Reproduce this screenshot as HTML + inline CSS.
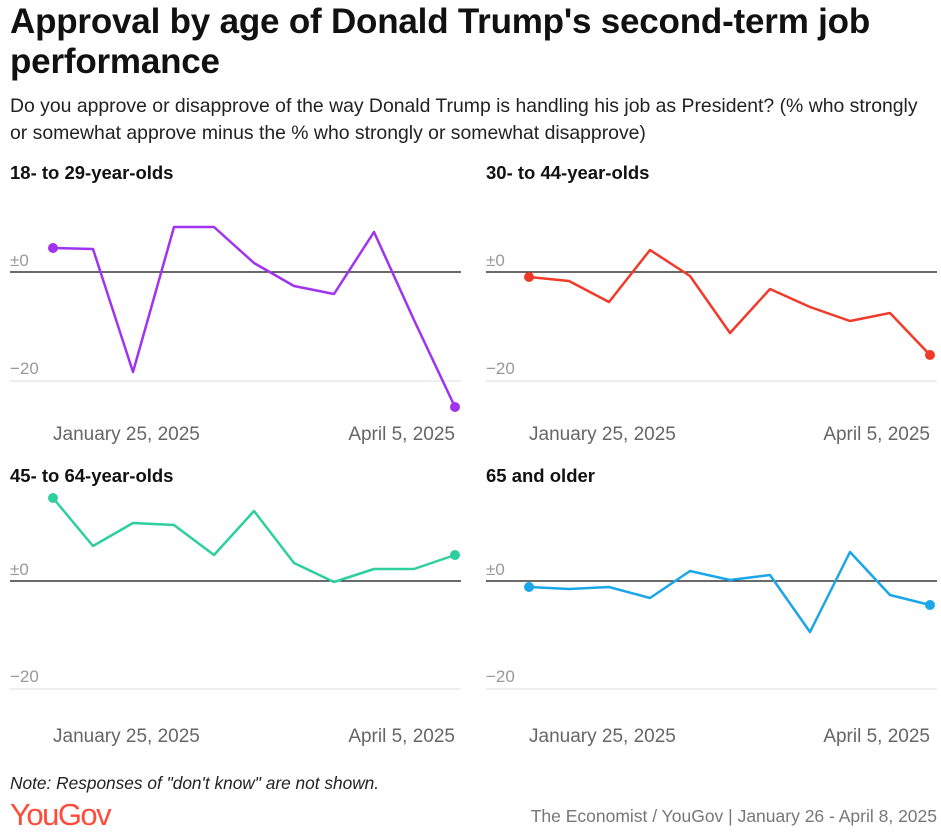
<!DOCTYPE html>
<html><head><meta charset="utf-8"><style>
body{margin:0;width:941px;height:834px;background:#fff;font-family:"Liberation Sans",sans-serif;overflow:hidden;position:relative}
.t{position:absolute;left:10px;top:2px;font-size:35px;font-weight:bold;line-height:40px;color:#111;letter-spacing:-0.2px}
.s{position:absolute;left:10px;top:93px;font-size:19.4px;line-height:27px;color:#222}
svg{position:absolute;left:0;top:0}
</style></head><body>
<div class="t">Approval by age of Donald Trump's second-term job<br>performance</div>
<div class="s">Do you approve or disapprove of the way Donald Trump is handling his job as President? (% who strongly<br>or somewhat approve minus the % who strongly or somewhat disapprove)</div>
<svg width="941" height="834" font-family="Liberation Sans, sans-serif">
<g font-size="18.5" font-weight="bold" fill="#111">
<text x="10" y="179">18- to 29-year-olds</text>
<text x="486" y="179">30- to 44-year-olds</text>
<text x="10" y="482">45- to 64-year-olds</text>
<text x="486" y="482">65 and older</text>
</g>
<g font-size="17" fill="#999">
<text x="10" y="266">±0</text><text x="10" y="374">−20</text>
<text x="486" y="266">±0</text><text x="486" y="374">−20</text>
<text x="10" y="575">±0</text><text x="10" y="682">−20</text>
<text x="486" y="575">±0</text><text x="486" y="682">−20</text>
</g>
<g font-size="19" fill="#666">
<text x="53" y="440">January 25, 2025</text><text x="455" y="440" text-anchor="end">April 5, 2025</text>
<text x="529" y="440">January 25, 2025</text><text x="930" y="440" text-anchor="end">April 5, 2025</text>
<text x="53" y="742">January 25, 2025</text><text x="455" y="742" text-anchor="end">April 5, 2025</text>
<text x="529" y="742">January 25, 2025</text><text x="930" y="742" text-anchor="end">April 5, 2025</text>
</g>
<g stroke="#ddd" stroke-width="1">
<line x1="10" y1="381" x2="461" y2="381"/><line x1="486" y1="381" x2="937" y2="381"/>
<line x1="10" y1="689" x2="461" y2="689"/><line x1="486" y1="689" x2="937" y2="689"/>
</g>
<g stroke="#111" stroke-width="1.2">
<line x1="10" y1="272" x2="461" y2="272"/><line x1="486" y1="272" x2="937" y2="272"/>
<line x1="10" y1="581" x2="461" y2="581"/><line x1="486" y1="581" x2="937" y2="581"/>
</g>
<g fill="none" stroke-width="2.5" stroke-linejoin="round">
<polyline stroke="#a033f0" points="53,248 93,249 133,372 174,227 214,227 254,263 294,286 334,294 374,232 414,320 455,407"/>
<polyline stroke="#f23a2a" points="529,277 569,281 609,302 650,250 690,276 730,333 770,289 810,307 850,321 890,313 930,355"/>
<polyline stroke="#2fcf9d" points="53,498 93,546 133,523 174,525 214,555 254,511 294,563 334,582 374,569 414,569 455,555"/>
<polyline stroke="#1aa6e8" points="529,587 569,589 609,587 650,598 690,571 730,580 770,575 810,632 850,552 890,595 930,605"/>
</g>
<circle cx="53" cy="248" r="5" fill="#a033f0"/><circle cx="455" cy="407" r="5" fill="#a033f0"/>
<circle cx="529" cy="277" r="5" fill="#f23a2a"/><circle cx="930" cy="355" r="5" fill="#f23a2a"/>
<circle cx="53" cy="498" r="5" fill="#2fcf9d"/><circle cx="455" cy="555" r="5" fill="#2fcf9d"/>
<circle cx="529" cy="587" r="5" fill="#1aa6e8"/><circle cx="930" cy="605" r="5" fill="#1aa6e8"/>
<text x="10" y="789" font-size="17.3" font-style="italic" fill="#222">Note: Responses of "don't know" are not shown.</text>
<text x="10" y="825" font-size="31" fill="#ff4b3a" letter-spacing="-1.5">YouGov</text>
<text x="937" y="822" font-size="17.5" fill="#777" text-anchor="end">The Economist / YouGov | January 26 - April 8, 2025</text>
</svg>
</body></html>
